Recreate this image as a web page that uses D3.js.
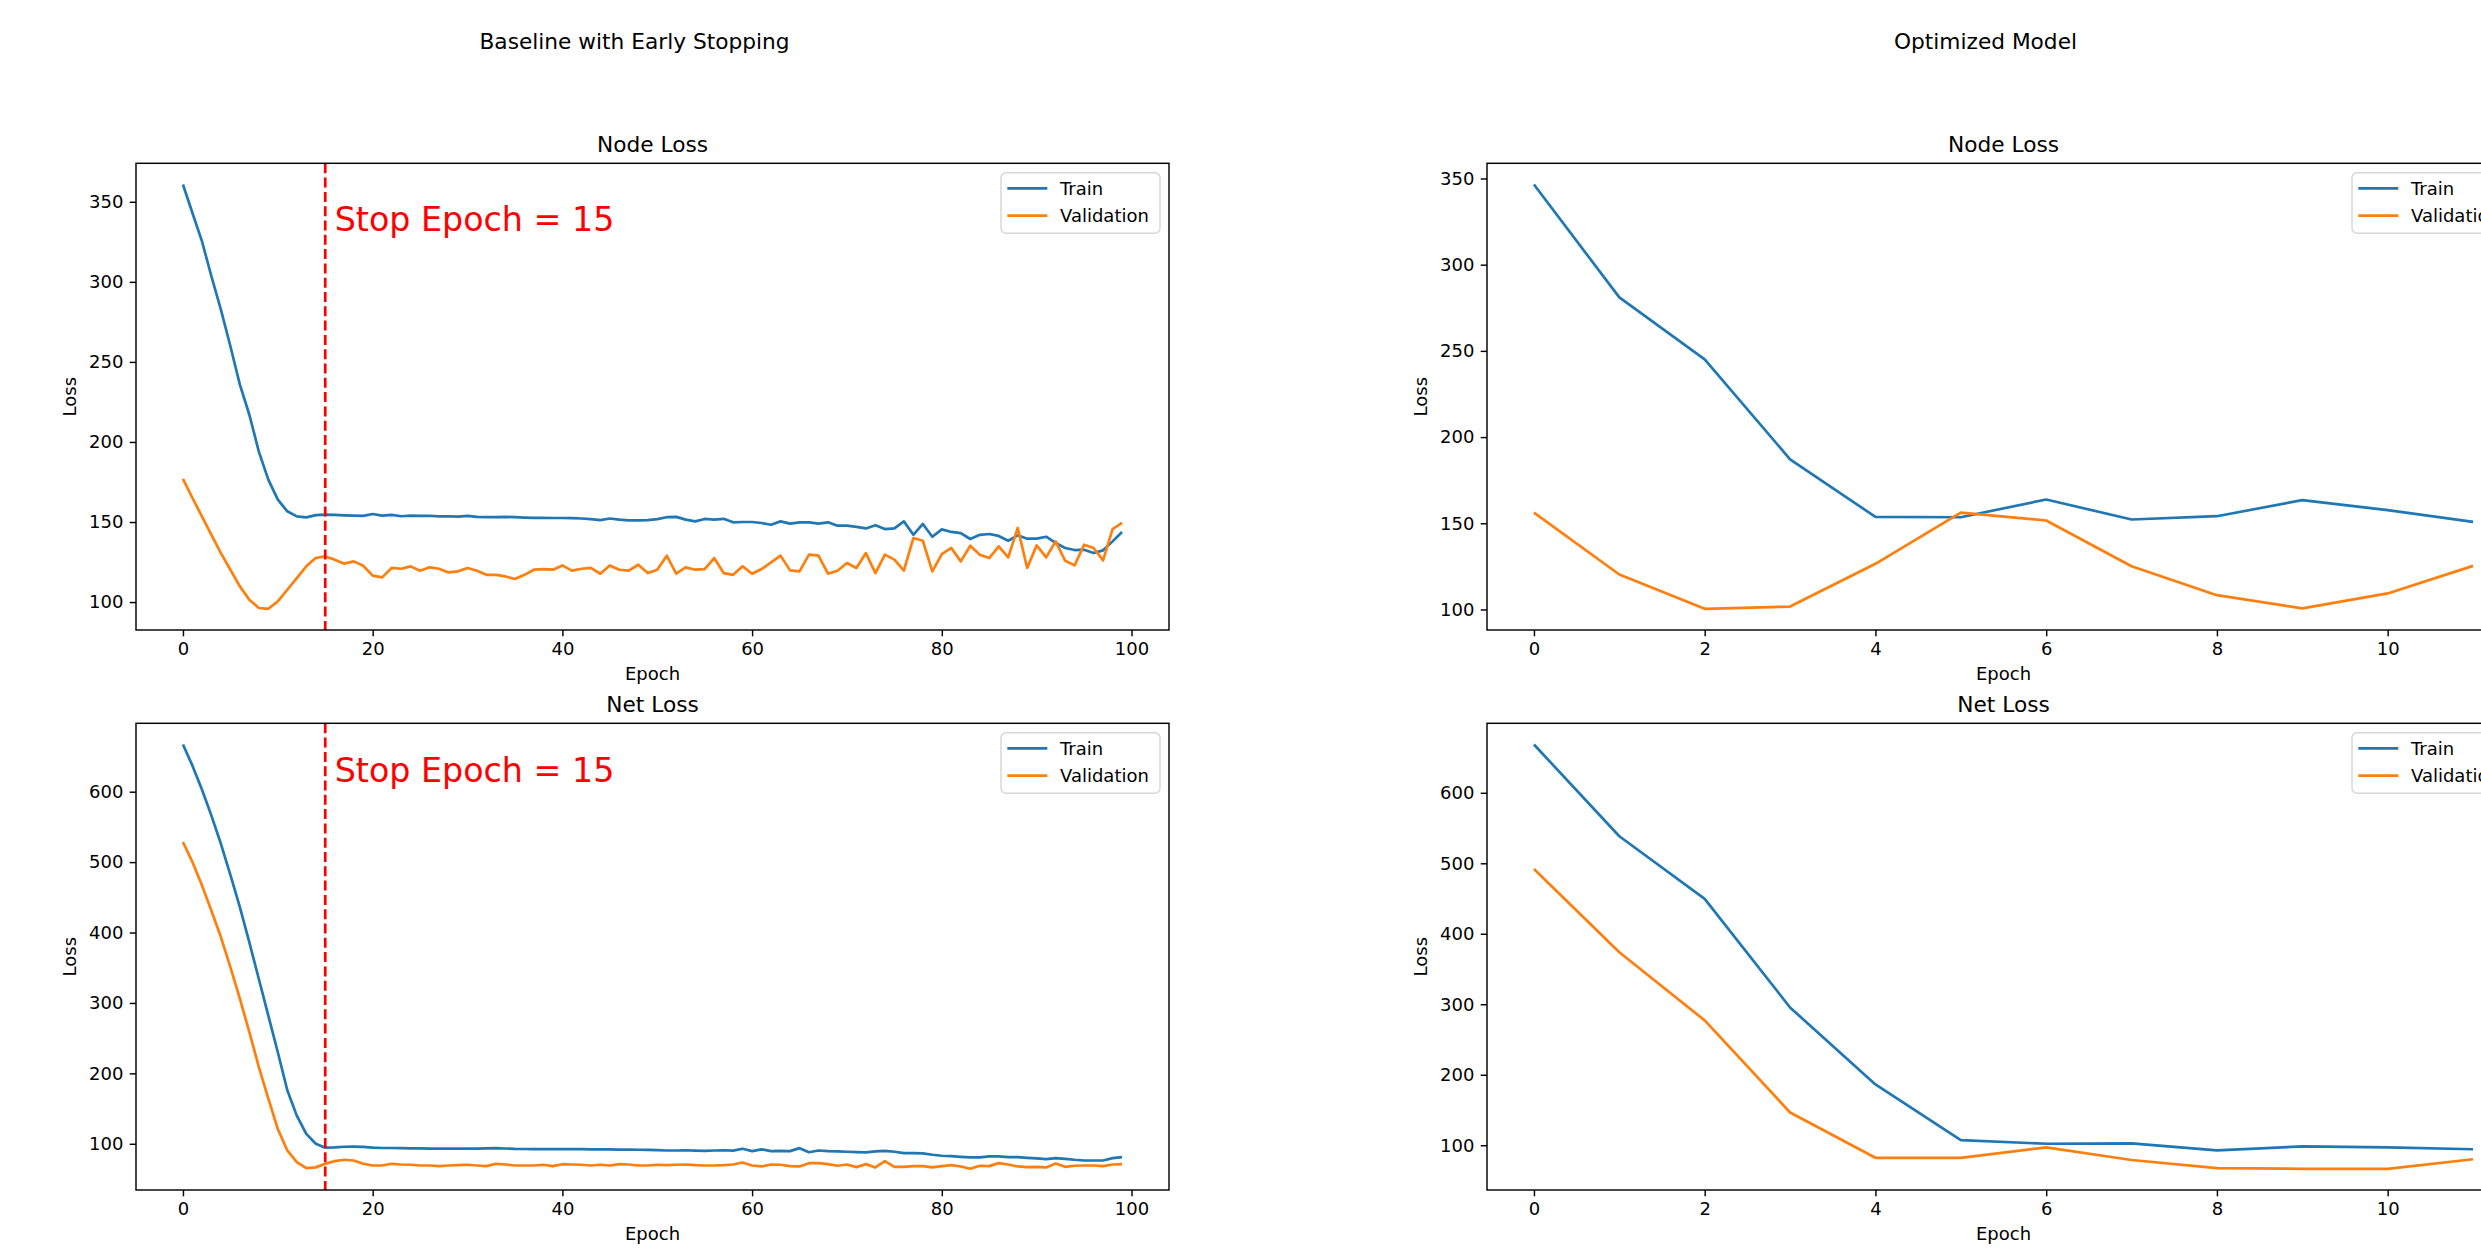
<!DOCTYPE html>
<html>
<head>
<meta charset="utf-8">
<script src="https://cdn.jsdelivr.net/npm/d3@7"></script>
<style>
  body { margin: 0; background: #fff; overflow: hidden; }
  svg text { font-family: "DejaVu Sans", sans-serif; fill: #000; }
</style>
</head>
<body>
<div id="chart"></div>
<script>
// baseline run, 100 epochs
const baseNodeTrain = [360.8, 343, 325.4, 303.5, 282.7, 259.8, 235.8, 217, 194, 176.5, 164, 156.7, 153.5, 152.9, 154.3, 154.6,
  154.4, 154.2, 154, 153.8, 155, 154, 154.5, 153.6, 154, 153.8, 153.9, 153.5, 153.6, 153.4, 153.8, 153.2, 153.1, 153,
  153.2, 153, 152.8, 152.6, 152.6, 152.5, 152.5, 152.4, 152.2, 151.8, 151.2, 152.2, 151.5, 151, 151, 151.2, 151.8,
  153, 153.2, 151.5, 150.4, 151.9, 151.5, 152, 149.8, 150, 150, 149.4, 148.3, 150.4, 149, 149.8, 149.8, 149, 149.8,
  147.7, 147.7, 147, 146, 148, 145.6, 146, 150.4, 142, 148.8, 140.8, 145.4, 143.8, 143.1, 139.4, 142, 142.5, 141.3,
  138.3, 141.7, 139.6, 139.6, 140.8, 136.9, 133.8, 132.5, 132.7, 130.6, 132.3, 137.9, 143.8];
const baseNodeVal = [176.9, 165, 153.5, 142, 130.6, 120.2, 109.8, 101.5, 96.3, 95.8, 100.4, 107.7, 115, 122.3, 127.5,
  128.5, 126.5, 124, 125.4, 122.7, 116.5, 115.4, 121.3, 120.8, 122.3, 119.6, 121.7, 120.8, 118.5, 119.2, 121.3, 119.6,
  117, 117, 116, 114.4, 117, 120.2, 120.6, 120.2, 122.9, 119.6, 120.8, 121.3, 117.7, 122.9, 120.2, 119.6, 123.3, 118.1,
  120.2, 129, 117.7, 121.7, 120.2, 120.6, 127.5, 118.1, 117, 122.3, 117.7, 120.6, 124.8, 129, 119.8, 119.2, 129.6, 129,
  117.7, 119.6, 124.4, 121.3, 130.6, 118.1, 129.6, 126.5, 119.6, 140, 138.3, 119.2, 130, 133.8, 125.4, 135.2, 129.6,
  127.5, 134.8, 127.9, 146.3, 121.3, 135.4, 127.9, 137.9, 125.8, 122.9, 135.8, 133.8, 126, 145.6, 149.4];
const baseNetTrain = [667, 637, 603, 566, 526, 482, 436, 386, 334, 282, 230, 176, 140, 114, 100, 94.5,
  95, 95.8, 96, 95.5, 94.5, 94, 94, 93.8, 93.5, 93.4, 93.2, 93.2, 93, 93, 93, 93.2, 93.5, 93.8, 93.3, 92.8, 92.6, 92.5,
  92.5, 92.4, 92.5, 92.3, 92.4, 92.2, 92, 92, 91.8, 91.6, 91.5, 91.4, 91,
  90.5, 90.5, 90.8, 90.3, 90, 90.5, 90.8, 90.3, 93, 89.6, 92, 89.6, 90, 89.6, 93.8, 88, 90.5, 89.6, 89.2, 88.7, 88.2,
  87.7, 89.2, 90, 88.7, 86.7, 86.7, 86.3, 84.4, 83, 82.5, 81.5, 80.6, 80.6, 82, 82, 81, 81, 80, 79.2, 78.2, 79.6, 78.7,
  77.3, 76.3, 76.3, 76.3, 79.6, 81];
const baseNetVal = [528.5, 500, 467, 431, 393.6, 351, 306, 258.6, 209, 164, 121, 90.5, 74, 65.5, 66.5, 71.6,
  75.4, 77.3, 76.3, 71.6, 69.2, 69.2, 71.6, 70.6, 70.2, 69.2, 69.2, 68.3, 69.2, 69.7, 70.2, 69.2, 68.3, 71.6, 70.6,
  69.2, 69.2, 69.2, 70.2, 68.3, 71, 70.6, 70.2, 69.2, 70.2, 69.2, 71, 70.6, 69.2, 69.2, 70.2,
  69.7, 70.2, 70.6, 69.7, 69.2, 69.2, 69.7, 70.6, 73.5, 69.2, 67.8, 70.6, 70.2, 68.3, 67.8, 72.5, 72.5, 71.1, 68.8,
  70.6, 66.9, 71.1, 66.4, 75.4, 67.3, 67.3, 68.3, 68.3, 66.4, 68.3, 69.7, 67.8, 64.5, 68.8, 68.3, 72.5, 70.6, 67.8,
  66.9, 67.3, 66.4, 72, 67.3, 68.8, 69.2, 69.2, 68.3, 70.6, 71.1];
const stopEpoch = 15;

// optimized run, 12 epochs
const optNodeTrain = [346.5, 281, 245.1, 187.1, 153.7, 153.5, 163.8, 152.2, 154.1, 163.4, 157.6, 150.8];
const optNodeVal = [156.2, 120.3, 100.4, 101.7, 126.5, 156.2, 151.6, 125.1, 108.3, 100.6, 109.3, 125.3];
const optNetTrain = [668.5, 538.4, 449.6, 295.4, 186.2, 107.3, 102.1, 102.6, 92.7, 98.4, 96.9, 94.3];
const optNetVal = [491.9, 373.8, 277.1, 146.5, 82.2, 82.2, 96.9, 79.1, 67.6, 66.6, 66.6, 80.1];

const baseXTicks = [0, 20, 40, 60, 80, 100];
const optXTicks = [0, 2, 4, 6, 8, 10];
const nodeYTicks = [100, 150, 200, 250, 300, 350];
const netYTicks = [100, 200, 300, 400, 500, 600];

const seriesNames = ['Train', 'Validation'];
const colors = ['#1f77b4', '#ff7f0e'];

const W = 2481, H = 1258;
const fs = 18;      // 10pt at 130 dpi
const lw = 2.7;

const svg = d3.select('#chart').append('svg')
  .attr('width', W)
  .attr('height', H);

svg.append('rect').attr('width', W).attr('height', H).attr('fill', '#fff');

// columns and rows of axes boxes
const cols = [{x0: 136, x1: 1169}, {x0: 1487, x1: 2520}];
const rows = [{y0: 163.3, y1: 630}, {y0: 723.3, y1: 1190}];

function drawPanel(box, train, val, title, xTicks, yTicks, stop) {
  const n = train.length - 1;
  const x = d3.scaleLinear()
    .domain([-0.05 * n, n * 1.05])
    .range([box.x0, box.x1]);
  const all = train.concat(val);
  const lo = d3.min(all), hi = d3.max(all), pad = (hi - lo) * 0.05;
  const y = d3.scaleLinear()
    .domain([lo - pad, hi + pad])
    .range([box.y1, box.y0]);

  const g = svg.append('g');

  const xAxis = g.append('g')
    .attr('transform', `translate(0,${box.y1})`)
    .call(d3.axisBottom(x).tickValues(xTicks).tickSize(6.3).tickPadding(6.3).tickSizeOuter(0));
  const yAxis = g.append('g')
    .attr('transform', `translate(${box.x0},0)`)
    .call(d3.axisLeft(y).tickValues(yTicks).tickSize(6.3).tickPadding(6.3).tickSizeOuter(0));
  [xAxis, yAxis].forEach(a => {
    a.select('.domain').remove();
    a.selectAll('line').attr('stroke', '#000').attr('stroke-width', 1.44);
    a.selectAll('text').attr('font-size', fs).attr('font-family', '"DejaVu Sans", sans-serif').attr('fill', '#222');
  });

  const line = d3.line().x((d, i) => x(i)).y(d => y(d));
  [train, val].forEach((s, k) => {
    g.append('path')
      .datum(s)
      .attr('d', line)
      .attr('fill', 'none')
      .attr('stroke', colors[k])
      .attr('stroke-width', lw)
      .attr('stroke-linejoin', 'round')
      .attr('stroke-linecap', 'butt');
  });

  if (stop != null) {
    g.append('line')
      .attr('x1', x(stop)).attr('x2', x(stop))
      .attr('y1', box.y0).attr('y2', box.y1)
      .attr('stroke', '#ff0000')
      .attr('stroke-width', lw)
      .attr('stroke-dasharray', '10,4.3');
    g.append('text')
      .attr('x', x(stop + 1))
      .attr('y', y(d3.max(train) * 0.92))
      .attr('font-size', 33.3)
      .style('fill', '#ff0000')
      .text(`Stop Epoch = ${stop}`);
  }

  // frame
  g.append('rect')
    .attr('x', box.x0).attr('y', box.y0)
    .attr('width', box.x1 - box.x0).attr('height', box.y1 - box.y0)
    .attr('fill', 'none')
    .attr('stroke', '#000')
    .attr('stroke-width', 1.44);

  g.append('text')
    .attr('x', (box.x0 + box.x1) / 2)
    .attr('y', box.y0 - 11.6)
    .attr('text-anchor', 'middle')
    .attr('font-size', 21.7)
    .text(title);

  g.append('text')
    .attr('x', (box.x0 + box.x1) / 2)
    .attr('y', box.y1 + 50)
    .attr('text-anchor', 'middle')
    .attr('font-size', fs)
    .text('Epoch');

  g.append('text')
    .attr('transform', `translate(${box.x0 - 60},${(box.y0 + box.y1) / 2}) rotate(-90)`)
    .attr('text-anchor', 'middle')
    .attr('font-size', fs)
    .text('Loss');

  // legend (the right column is cut by the page edge, as in the original)
  const lg = g.append('g').attr('transform', `translate(${box.x1 - 168},${box.y0 + 9.4})`);
  lg.append('rect')
    .attr('width', 159).attr('height', 60.6)
    .attr('rx', 5).attr('ry', 5)
    .attr('fill', '#fff').attr('fill-opacity', 0.8)
    .attr('stroke', '#d6d6d6').attr('stroke-width', 1.44);
  seriesNames.forEach((name, k) => {
    const yy = 15.6 + k * 27.4;
    lg.append('line')
      .attr('x1', 6.3).attr('x2', 46.3)
      .attr('y1', yy).attr('y2', yy)
      .attr('stroke', colors[k]).attr('stroke-width', lw);
    lg.append('text')
      .attr('x', 59)
      .attr('y', yy)
      .attr('dy', '0.35em')
      .attr('font-size', fs)
      .text(name);
  });
}

drawPanel({...cols[0], ...rows[0]}, baseNodeTrain, baseNodeVal, 'Node Loss', baseXTicks, nodeYTicks, stopEpoch);
drawPanel({...cols[0], ...rows[1]}, baseNetTrain, baseNetVal, 'Net Loss', baseXTicks, netYTicks, stopEpoch);
drawPanel({...cols[1], ...rows[0]}, optNodeTrain, optNodeVal, 'Node Loss', optXTicks, nodeYTicks, null);
drawPanel({...cols[1], ...rows[1]}, optNetTrain, optNetVal, 'Net Loss', optXTicks, netYTicks, null);

// sub-figure titles
const supTitles = ['Baseline with Early Stopping', 'Optimized Model'];
supTitles.forEach((t, k) => {
  svg.append('text')
    .attr('x', (cols[k].x0 + cols[k].x1) / 2 - 18)
    .attr('y', 49)
    .attr('text-anchor', 'middle')
    .attr('font-size', 21.7)
    .text(t);
});
</script>
</body>
</html>
